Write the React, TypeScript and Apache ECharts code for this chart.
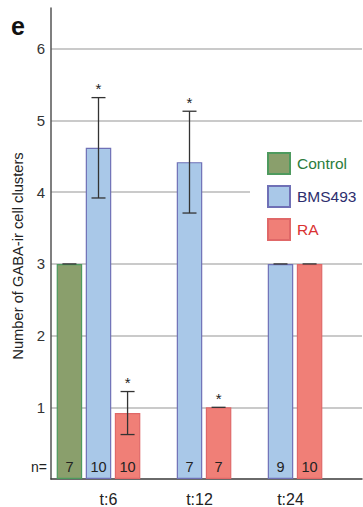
import React, { useEffect, useRef } from "react";
import * as echarts from "echarts";

const categories = ["t:6", "t:12", "t:24"];
const seriesNames = ["Control", "BMS493", "RA"];
const controlValues = [3, null, null];
const bmsValues = [4.62, 4.42, 3];
const raValues = [0.92, 1, 3];
const controlErr = [0, null, null];
const bmsErr = [0.7, 0.71, 0];
const raErr = [0.3, 0, 0];
const controlN = [7, null, null];
const bmsN = [10, 7, 9];
const raN = [10, 7, 10];
const controlSig = [false, false, false];
const bmsSig = [true, true, false];
const raSig = [true, true, false];
const yTickLabels = [1, 2, 3, 4, 5, 6];
const yMax = 6.57;

const FONT = "'Liberation Sans', Arial, sans-serif";
const BAR_W = 25.5;
const BAR_GAP = 0.14;

const fills = ["#8a9f6c", "#a9c8e8", "#f07f77"];
const borders = ["#4e9a5e", "#6f70b6", "#e06868"];
const legendColors = ["#2b7c3c", "#2d2e6e", "#d93232"];

export default function App() {
  const ref = useRef<HTMLDivElement>(null);
  useEffect(() => {
    if (!ref.current) return;
    const chart = echarts.init(ref.current, null, { renderer: "svg" });
    const values = [controlValues, bmsValues, raValues];
    const errs = [controlErr, bmsErr, raErr];
    const ns = [controlN, bmsN, raN];
    const sigs = [controlSig, bmsSig, raSig];

    const errData: any[] = [];
    values.forEach((arr, s) => {
      arr.forEach((v, c) => {
        if (v == null) return;
        errData.push([c, s, v, errs[s][c] ?? 0, sigs[s][c] ? 1 : 0]);
      });
    });

    const barSeries = values.map((arr, s) => ({
      name: seriesNames[s],
      type: "bar",
      xAxisIndex: 1,
      yAxisIndex: 1,
      data: arr,
      barWidth: BAR_W,
      barGap: BAR_GAP * 100 + "%",
      itemStyle: { color: fills[s], borderColor: borders[s], borderWidth: 1.2 },
      label: {
        show: true,
        position: "insideBottom",
        distance: 5,
        formatter: (p: any) => (ns[s][p.dataIndex] == null ? "" : String(ns[s][p.dataIndex])),
        fontFamily: FONT,
        fontSize: 14.5,
        color: "#222",
      },
      z: 2,
    }));

    chart.setOption({
      animation: false,
      backgroundColor: "#fff",
      textStyle: { fontFamily: FONT },
      grid: [
        { left: 51, right: 1, top: 8, bottom: 28 },
        { left: 53, right: 37, top: 8, bottom: 28 },
      ],
      xAxis: [
        {
          gridIndex: 0,
          type: "value",
          min: 0,
          max: 1,
          axisLine: { show: true, onZero: false, lineStyle: { color: "#3a3a3a", width: 1.5 } },
          axisTick: { show: false },
          axisLabel: { show: false },
          splitLine: { show: false },
        },
        {
          gridIndex: 1,
          type: "category",
          data: categories,
          axisLine: { show: false },
          axisTick: { show: false },
          axisLabel: {
            fontFamily: FONT,
            fontSize: 16,
            color: "#222",
            margin: 12,
            padding: [0, 0, 0, 20],
          },
        },
      ],
      yAxis: [
        {
          gridIndex: 0,
          type: "value",
          min: 0,
          max: yMax,
          interval: 1,
          axisLine: { show: true, lineStyle: { color: "#555", width: 1.5 } },
          axisTick: { show: false },
          axisLabel: {
            fontFamily: FONT,
            fontSize: 15,
            color: "#333",
            margin: 6,
            padding: [0, 0, 8, 0],
            showMaxLabel: false,
            formatter: (v: number) => (yTickLabels.includes(v) ? String(v) : ""),
          },
          splitLine: {
            show: true,
            showMinLine: false,
            showMaxLine: false,
            lineStyle: { color: "#b8b8b8", width: 1.5 },
          },
        },
        {
          gridIndex: 1,
          type: "value",
          min: 0,
          max: yMax,
          show: false,
          splitLine: { show: false },
        },
      ],
      legend: {
        orient: "vertical",
        left: 250,
        top: 142,
        padding: [10, 12, 10, 17],
        backgroundColor: "#fff",
        itemWidth: 22,
        itemHeight: 21,
        itemGap: 10,
        icon: "rect",
        data: seriesNames.map((n, i) => ({
          name: n,
          textStyle: { color: legendColors[i] },
        })),
        textStyle: { fontFamily: FONT, fontSize: 15.5, padding: [0, 0, 0, 2] },
        z: 10,
      },
      series: [
        ...barSeries,
        {
          type: "custom",
          name: "errors",
          xAxisIndex: 1,
          yAxisIndex: 1,
          z: 5,
          silent: true,
          data: errData,
          renderItem: (params: any, api: any) => {
            const c = api.value(0);
            const s = api.value(1);
            const m = api.value(2);
            const e = api.value(3);
            const sig = api.value(4);
            const off = (s - 1) * BAR_W * (1 + BAR_GAP);
            const top = api.coord([c, m + e]);
            const bot = api.coord([c, m - e]);
            const x = top[0] + off;
            const cap = 7;
            const style = { stroke: "#333", lineWidth: 1.3 };
            const children: any[] = [
              { type: "line", shape: { x1: x - cap, y1: top[1], x2: x + cap, y2: top[1] }, style },
            ];
            if (e > 0) {
              children.push({ type: "line", shape: { x1: x, y1: top[1], x2: x, y2: bot[1] }, style });
              children.push({ type: "line", shape: { x1: x - cap, y1: bot[1], x2: x + cap, y2: bot[1] }, style });
            }
            if (sig) {
              children.push({
                type: "text",
                style: {
                  text: "*",
                  x: x,
                  y: top[1] - 9,
                  align: "center",
                  verticalAlign: "middle",
                  fontSize: 15,
                  fontFamily: FONT,
                  fill: "#222",
                },
              });
            }
            return { type: "group", children };
          },
        },
      ],
      graphic: [
        {
          type: "text",
          left: 11,
          top: 13,
          style: { text: "e", fontSize: 25, fontWeight: "bold", fontFamily: FONT, fill: "#111" },
        },
        {
          type: "text",
          x: 18,
          y: 256,
          rotation: Math.PI / 2,
          style: {
            text: "Number of GABA-ir cell clusters",
            fontSize: 14.7,
            fontFamily: FONT,
            fill: "#222",
            align: "center",
            verticalAlign: "middle",
          },
        },
        {
          type: "text",
          x: 31,
          y: 467,
          style: {
            text: "n=",
            fontSize: 14,
            fontFamily: FONT,
            fill: "#222",
            verticalAlign: "middle",
          },
        },
      ],
    });
    return () => chart.dispose();
  }, []);
  return (
    <div
      ref={ref}
      style={{ position: "absolute", left: 0, top: 0, width: 363, height: 507 }}
    />
  );
}
